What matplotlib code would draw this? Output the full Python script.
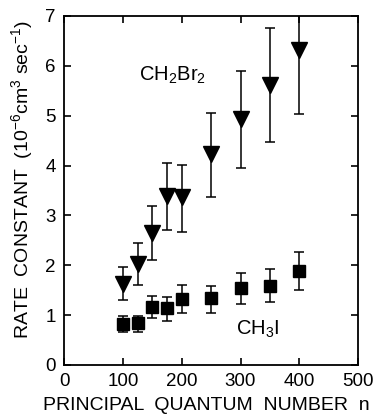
import matplotlib
matplotlib.use("Agg")
import matplotlib.pyplot as plt

# CH2Br2 data
n_br = [100, 125, 150, 175, 200, 250, 300, 350, 400]
k_br = [1.62, 2.02, 2.64, 3.38, 3.36, 4.23, 4.93, 5.62, 6.32]
k_br_lo = [1.30, 1.61, 2.10, 2.70, 2.66, 3.37, 3.95, 4.47, 5.04]
k_br_hi = [1.97, 2.44, 3.18, 4.05, 4.02, 5.06, 5.89, 6.75, 7.40]

# CH3I data
n_i = [100, 125, 150, 175, 200, 250, 300, 350, 400]
k_i = [0.82, 0.84, 1.16, 1.14, 1.32, 1.34, 1.54, 1.58, 1.88]
k_i_lo = [0.66, 0.66, 0.94, 0.88, 1.04, 1.04, 1.22, 1.26, 1.50]
k_i_hi = [0.98, 0.98, 1.38, 1.36, 1.60, 1.58, 1.84, 1.92, 2.27]

xticks = [0, 100, 200, 300, 400, 500]
yticks = [0, 1, 2, 3, 4, 5, 6, 7]

plt.rcParams['font.family'] = ['Liberation Sans', 'DejaVu Sans']
plt.rcParams['mathtext.default'] = 'regular'

fig = plt.figure(figsize=(3.77, 4.19), dpi=100)
ax = fig.add_axes([0.170, 0.129, 0.780, 0.833])

def err(v, lo, hi):
    return [[a - b for a, b in zip(v, lo)], [c - a for a, c in zip(v, hi)]]

ax.errorbar(n_br, k_br, yerr=err(k_br, k_br_lo, k_br_hi), fmt='v', color='black',
            ms=11, capsize=3.3, elinewidth=1.1, capthick=1.1)
ax.errorbar(n_i, k_i, yerr=err(k_i, k_i_lo, k_i_hi), fmt='s', color='black',
            ms=8, capsize=3.3, elinewidth=1.1, capthick=1.1)

ax.set_xlim(0, 500)
ax.set_ylim(0, 7)
ax.set_xticks(xticks)
ax.set_yticks(yticks)
ax.tick_params(direction='in', length=5, width=1.2, top=True, right=True,
               labelsize=13.5, pad=6)
for s in ax.spines.values():
    s.set_linewidth(1.3)

ax.text(128, 5.8, 'CH$_2$Br$_2$', fontsize=14.5, ha='left', va='center')
ax.text(293, 0.72, 'CH$_3$I', fontsize=14.5, ha='left', va='center')

ax.set_xlabel('PRINCIPAL  QUANTUM  NUMBER  n', fontsize=14, labelpad=5)
ax.xaxis.label.set_x(0.485)
ax.set_ylabel('RATE  CONSTANT  (10$^{-6}$cm$^3$ sec$^{-1}$)', fontsize=14)
ax.yaxis.set_label_coords(-0.10, 0.53)

fig.savefig('out.png', dpi=100)
